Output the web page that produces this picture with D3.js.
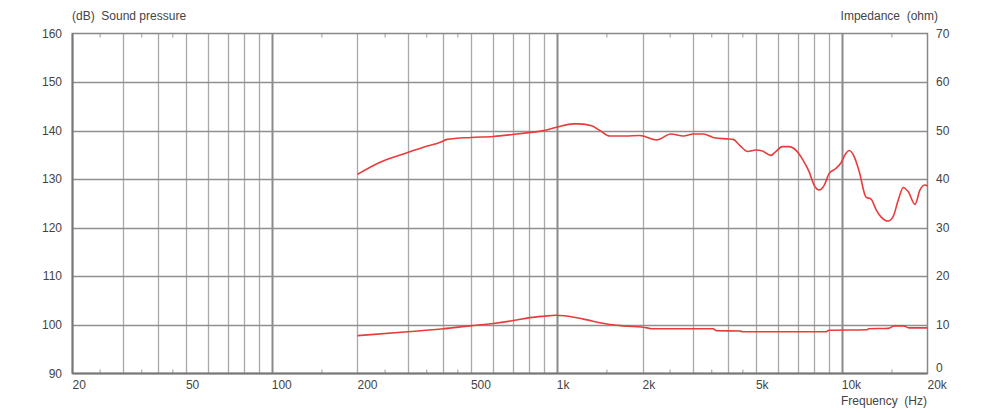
<!DOCTYPE html>
<html>
<head>
<meta charset="utf-8">
<script src="https://cdn.jsdelivr.net/npm/d3@7"></script>
<style>
html,body{margin:0;padding:0;background:#fff;}
svg{display:block;}
text{font-family:"Liberation Sans",Arial,sans-serif;font-size:12px;fill:#444;}
</style>
</head>
<body>
<svg id="chart" width="1000" height="413"></svg>
<script>
// ---- data ----
const splFreq = [200,240,300,341,395,412,500,600,700,800,900,1000,1145,1200,1325,1420,1535,1740,1955,2244,2305,2515,2783,3020,3270,3540,3950,4160,4380,4680,5000,5270,5640,5870,6190,6530,6900,7290,7690,8000,8340,8690,9040,9530,9920,10340,10620,11070,11530,12170,12680,13210,13760,14540,15150,15790,16450,17130,18080,18820,19620,20000];
const splDb   = [131.0,133.5,135.5,136.6,137.7,138.2,138.6,138.8,139.2,139.6,140.0,140.7,141.4,141.4,141.0,140.0,138.9,138.9,139.0,138.1,138.3,139.3,138.9,139.3,139.3,138.6,138.3,138.2,137.0,135.7,136.0,135.8,134.9,135.7,136.7,136.7,136.0,134.1,131.5,128.8,127.8,128.8,131.2,132.2,133.3,135.3,135.9,134.6,131.5,126.3,125.9,123.7,122.2,121.4,122.3,125.7,128.3,127.4,124.8,127.8,128.8,128.6];
const impFreq = [200,300,400,495,600,705,805,900,990,1060,1240,1500,1720,2080,2140,3540,3640,4380,4500,8800,9040,12260,12430,14580,15320,16500,17200,20000];
const impOhm  = [7.8,8.6,9.2,9.8,10.3,10.9,11.5,11.8,12.0,11.9,11.2,10.2,9.8,9.4,9.2,9.2,8.8,8.75,8.6,8.6,8.9,9.0,9.2,9.3,9.8,9.8,9.4,9.4];
const xTickValues = [20,50,100,200,500,1000,2000,5000,10000,20000];
const xTickLabels = ["20","50","100","200","500","1k","2k","5k","10k","20k"];
const gridFreqs = [30,40,50,60,70,80,90,100,200,300,400,500,600,700,800,900,1000,2000,3000,4000,5000,6000,7000,8000,9000,10000];
const majorFreqs = [100,1000,10000];
const minorTickFreqs = [25,35,45,150,250,350,450,1500,2500,3500,4500,15000];
const leftTicks = [90,100,110,120,130,140,150,160];
const rightTicks = [0,10,20,30,40,50,60,70];

// ---- layout ----
const L = 72.5, R = 927.5, T = 33.5, B = 373.5;
const svg = d3.select("#chart");
const x = d3.scaleLog().domain([20,20000]).range([L,R]);
const yL = d3.scaleLinear().domain([90,160]).range([B,T]);
const yR = d3.scaleLinear().domain([0,70]).range([B,T]);

// vertical grid
svg.append("g").selectAll("line").data(gridFreqs).join("line")
  .attr("x1",d=>Math.round(x(d))+0.5).attr("x2",d=>Math.round(x(d))+0.5)
  .attr("y1",T).attr("y2",B)
  .attr("stroke",d=>majorFreqs.includes(d)?"#8a8a8a":"#a8a8a8")
  .attr("stroke-width",d=>majorFreqs.includes(d)?2:1.3);

// horizontal grid
svg.append("g").selectAll("line").data(leftTicks.slice(1,-1)).join("line")
  .attr("x1",L).attr("x2",R)
  .attr("y1",d=>Math.round(yL(d))+0.5).attr("y2",d=>Math.round(yL(d))+0.5)
  .attr("stroke","#8f8f8f").attr("stroke-width",1.3);

// minor tick marks top & bottom
const mt = svg.append("g");
mt.selectAll("line.b").data(minorTickFreqs).join("line").attr("class","b")
  .attr("x1",d=>x(d)).attr("x2",d=>x(d)).attr("y1",B).attr("y2",B-4)
  .attr("stroke","#999").attr("stroke-width",1);
mt.selectAll("line.t").data(minorTickFreqs).join("line").attr("class","t")
  .attr("x1",d=>x(d)).attr("x2",d=>x(d)).attr("y1",T).attr("y2",T+4)
  .attr("stroke","#999").attr("stroke-width",1);

// frame
svg.append("rect").attr("x",L).attr("y",T).attr("width",R-L).attr("height",B-T)
  .attr("fill","none").attr("stroke","#888").attr("stroke-width",1.5);
svg.append("line").attr("x1",L).attr("x2",L).attr("y1",T).attr("y2",B).attr("stroke","#777").attr("stroke-width",2);
svg.append("line").attr("x1",L).attr("x2",R).attr("y1",B).attr("y2",B).attr("stroke","#777").attr("stroke-width",2);

// curves
const splLine = d3.line().x((d,i)=>x(splFreq[i])).y(d=>yL(d)).curve(d3.curveMonotoneX);
svg.append("path").datum(splDb).attr("d",splLine)
  .attr("fill","none").attr("stroke","#e83c3c").attr("stroke-width",1.6);
const impLine = d3.line().x((d,i)=>x(impFreq[i])).y(d=>yR(d)).curve(d3.curveMonotoneX);
svg.append("path").datum(impOhm).attr("d",impLine)
  .attr("fill","none").attr("stroke","#e83c3c").attr("stroke-width",1.6);

// axis labels
svg.append("g").selectAll("text").data(leftTicks).join("text")
  .attr("x",62).attr("y",d=>yL(d)+4).attr("text-anchor","end").text(d=>d);
svg.append("g").selectAll("text").data(rightTicks).join("text")
  .attr("x",936).attr("y",d=>yR(d)+(d===0?-2:4)).attr("text-anchor","start").text(d=>d);
svg.append("g").selectAll("text").data(xTickValues).join("text")
  .attr("x",d=>x(d)).attr("y",389).attr("text-anchor","start").text((d,i)=>xTickLabels[i]);

svg.append("text").attr("x",72).attr("y",20).attr("xml:space","preserve").text("(dB)  Sound pressure");
svg.append("text").attr("x",938).attr("y",20).attr("text-anchor","end").attr("xml:space","preserve").text("Impedance  (ohm)");
svg.append("text").attr("x",927).attr("y",405).attr("text-anchor","end").attr("xml:space","preserve").text("Frequency  (Hz)");
</script>
</body>
</html>
